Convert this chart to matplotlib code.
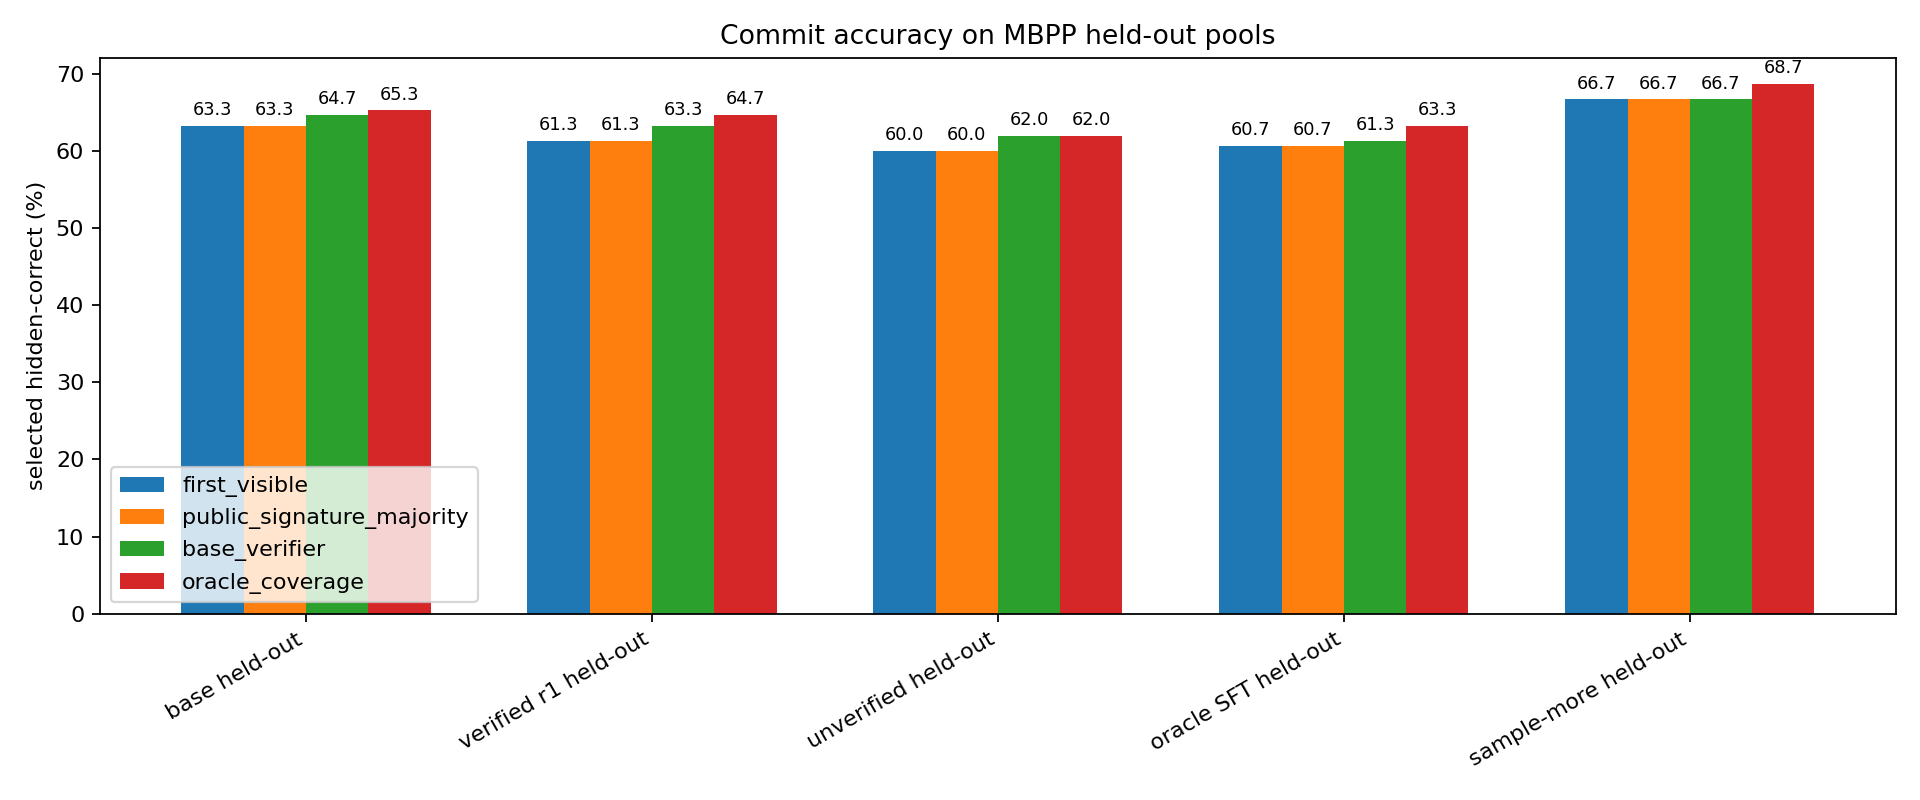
import numpy as np
import matplotlib
matplotlib.use("Agg")
import matplotlib.pyplot as plt

pools = ["base held-out", "verified r1 held-out", "unverified held-out",
         "oracle SFT held-out", "sample-more held-out"]
methods = ["first_visible", "public_signature_majority", "base_verifier",
           "oracle_coverage"]
first_visible = [63.3, 61.3, 60.0, 60.7, 66.7]
public_signature_majority = [63.3, 61.3, 60.0, 60.7, 66.7]
base_verifier = [64.7, 63.3, 62.0, 61.3, 66.7]
oracle_coverage = [65.3, 64.7, 62.0, 63.3, 68.7]

series = [first_visible, public_signature_majority, base_verifier,
          oracle_coverage]

fig, ax = plt.subplots(figsize=(12, 5), dpi=160)
x = np.arange(len(pools))
width = 0.18
for i, (name, vals) in enumerate(zip(methods, series)):
    offs = (i - 1.5) * width
    bars = ax.bar(x + offs, vals, width, label=name)
    ax.bar_label(bars, labels=["%.1f" % v for v in vals], padding=3,
                 fontsize=8)

ax.set_xticks(x)
ax.set_xticklabels(pools, rotation=30, ha="right")
ax.set_ylabel("selected hidden-correct (%)")
ax.set_title("Commit accuracy on MBPP held-out pools")
ax.legend(loc="lower left")
fig.subplots_adjust(left=0.052, right=0.9875, top=0.928, bottom=0.233)
fig.savefig("out.png")
